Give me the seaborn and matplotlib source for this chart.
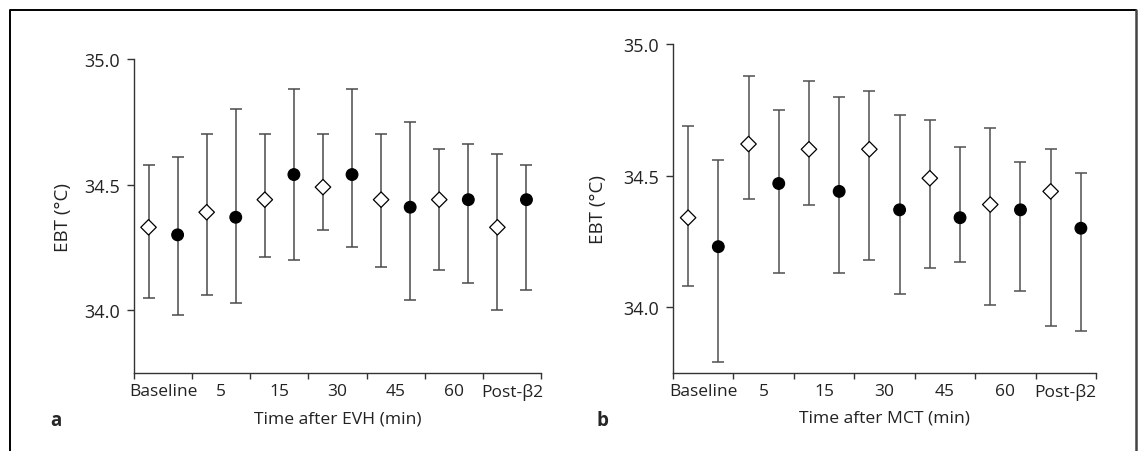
import matplotlib
matplotlib.use("Agg")
import matplotlib.pyplot as plt
import matplotlib.lines as mlines
import numpy as np
import pandas as pd
import seaborn as sns

# Time points (x categories)
times = ["Baseline", "5", "15", "30", "45", "60", "Post-β2"]

# Panel a - EVH
evh_open_mean = [34.33, 34.39, 34.44, 34.49, 34.44, 34.44, 34.33]
evh_open_hi = [34.58, 34.70, 34.70, 34.70, 34.70, 34.64, 34.62]
evh_open_lo = [34.05, 34.06, 34.21, 34.32, 34.17, 34.16, 34.00]
evh_fill_mean = [34.30, 34.37, 34.54, 34.54, 34.41, 34.44, 34.44]
evh_fill_hi = [34.61, 34.80, 34.88, 34.88, 34.75, 34.66, 34.58]
evh_fill_lo = [33.98, 34.03, 34.20, 34.25, 34.04, 34.11, 34.08]

# Panel b - MCT
mct_open_mean = [34.34, 34.62, 34.60, 34.60, 34.49, 34.39, 34.44]
mct_open_hi = [34.69, 34.88, 34.86, 34.82, 34.71, 34.68, 34.60]
mct_open_lo = [34.08, 34.41, 34.39, 34.18, 34.15, 34.01, 33.93]
mct_fill_mean = [34.23, 34.47, 34.44, 34.37, 34.34, 34.37, 34.30]
mct_fill_hi = [34.56, 34.75, 34.80, 34.73, 34.61, 34.55, 34.51]
mct_fill_lo = [33.79, 34.13, 34.13, 34.05, 34.17, 34.06, 33.91]

sns.set_theme(style="ticks")
plt.rcParams["font.family"] = ["Open Sans", "DejaVu Sans"]


def build_df(open_mean, open_lo, open_hi, fill_mean, fill_lo, fill_hi):
    idx = np.arange(len(times))
    d1 = pd.DataFrame({"x": idx - 0.25, "mean": open_mean, "lo": open_lo,
                       "hi": open_hi, "group": "open"})
    d2 = pd.DataFrame({"x": idx + 0.25, "mean": fill_mean, "lo": fill_lo,
                       "hi": fill_hi, "group": "filled"})
    return pd.concat([d1, d2], ignore_index=True)


def draw_panel(ax, df, xlabel, bar_color):
    yerr = np.vstack([df["mean"] - df["lo"], df["hi"] - df["mean"]])
    ax.errorbar(df["x"], df["mean"], yerr=yerr, fmt="none", ecolor=bar_color,
                elinewidth=1.1, capsize=4, capthick=1.1, zorder=1)
    sns.scatterplot(data=df, x="x", y="mean", style="group",
                    markers={"open": "D", "filled": "o"},
                    hue="group", palette={"open": "white", "filled": "black"},
                    size="group", sizes={"open": 62, "filled": 70},
                    edgecolor="black", linewidth=0.9, legend=False,
                    ax=ax, zorder=3)

    ax.set_xlim(-0.5, len(times) - 0.5)
    ax.set_ylim(33.75, 35.0)
    ax.set_yticks([34.0, 34.5, 35.0])
    ax.set_yticklabels(["34.0", "34.5", "35.0"])
    ax.set_xticks(np.arange(len(times) + 1) - 0.5)
    ax.set_xticklabels([])
    ax.set_xticks(np.arange(len(times)), minor=True)
    ax.set_xticklabels(times, minor=True)
    ax.tick_params(axis="x", which="minor", length=0, pad=7.5, labelsize=12.5,
                   labelcolor="#222222")
    ax.tick_params(axis="x", which="major", length=4.5, width=1.0, color="#333333")
    ax.tick_params(axis="y", length=5, width=1.0, color="#333333", labelsize=13,
                   pad=5, labelcolor="#222222")
    for s in ["top", "right"]:
        ax.spines[s].set_visible(False)
    for s in ["left", "bottom"]:
        ax.spines[s].set_linewidth(1.0)
        ax.spines[s].set_color("#333333")
    ax.set_xlabel(xlabel, fontsize=12.6, va="top", color="#222222")
    ax.set_ylabel("EBT (°C)", fontsize=13.5, va="center", color="#222222")


fig = plt.figure(figsize=(11.43, 4.52), dpi=100)
ax_a = fig.add_axes([134 / 1143, 78 / 452, 407 / 1143, 314 / 452])
ax_b = fig.add_axes([673 / 1143, 78 / 452, 423 / 1143, 329 / 452])

draw_panel(ax_a, build_df(evh_open_mean, evh_open_lo, evh_open_hi,
                          evh_fill_mean, evh_fill_lo, evh_fill_hi),
           "Time after EVH (min)", "#4a4a4a")
draw_panel(ax_b, build_df(mct_open_mean, mct_open_lo, mct_open_hi,
                          mct_fill_mean, mct_fill_lo, mct_fill_hi),
           "Time after MCT (min)", "#505050")

ax_a.yaxis.set_label_coords(-0.175, 0.5)
ax_b.yaxis.set_label_coords(-0.177, 0.5)
ax_a.xaxis.set_label_coords(0.5, -0.118)
ax_b.xaxis.set_label_coords(0.5, -0.112)

# panel letters
fig.text(56 / 1143, 1 - 421 / 452, "a", fontsize=13.5, fontweight="bold",
         ha="center", va="center")
fig.text(603 / 1143, 1 - 421 / 452, "b", fontsize=13.5, fontweight="bold",
         ha="center", va="center")

# outer frame (top, left, right)
fig.add_artist(mlines.Line2D([9.5 / 1143, 9.5 / 1143, 1134 / 1143],
                             [0.0, 1 - 10.5 / 452, 1 - 10.5 / 452],
                             color="black", linewidth=1.4,
                             transform=fig.transFigure))
fig.add_artist(mlines.Line2D([1134 / 1143, 1135.5 / 1143], [1 - 10.5 / 452, 1 - 10.5 / 452],
                             color="black", linewidth=1.4,
                             transform=fig.transFigure))
fig.add_artist(mlines.Line2D([1135.5 / 1143, 1135.5 / 1143], [0.0, 1 - 10.5 / 452],
                             color="#444444", linewidth=1.8,
                             transform=fig.transFigure))

fig.savefig("out.png", dpi=100, facecolor="white")
